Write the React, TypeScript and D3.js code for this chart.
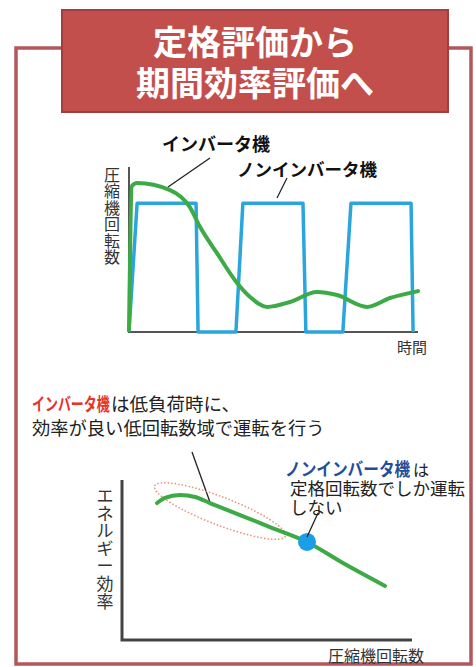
import React from "react";
import * as d3 from "d3";

// ---- Data ----
// Top chart: compressor speed over time
const inverterTime = [0, 1, 2.8, 14.2, 21, 24.6, 30.4, 37.4, 41.9, 47.8, 55.7, 65, 72, 82.4, 90.3, 100];
const inverterSpeed = [1, 88.5, 90.3, 86, 75.8, 63.6, 47.9, 29.7, 21.2, 15.2, 18.2, 24.2, 22.4, 15.2, 20.6, 24.8];
const nonInvTime = [0, 2.8, 23.2, 23.9, 37, 39.4, 60.2, 61.2, 74, 76.8, 97.6, 98.3];
const nonInvSpeed = [0, 78, 78, 0, 0, 78, 78, 0, 0, 78, 78, 0];

// Bottom chart: energy efficiency vs compressor speed
const effSpeed = [12.1, 14.8, 20, 25.2, 30.3, 40.7, 51, 63.8, 76.2, 90.7];
const effValue = [85.6, 88.8, 90.6, 89.4, 85.6, 78.1, 70.6, 61.3, 48.1, 33.8];
const ratedSpeed = [63.8];
const ratedEff = [61.3];

const titleLines = ["定格評価から", "期間効率評価へ"];
const topYLabel = "圧縮機回転数";
const bottomYLabel = "エネルギー効率";

const FONT = "'Noto Sans CJK JP', 'Noto Sans', sans-serif";

export default function App() {
  // top chart scales
  const tx = d3.scaleLinear().domain([0, 100]).range([129, 418]);
  const ty = d3.scaleLinear().domain([0, 100]).range([332, 167]);
  // bottom chart scales
  const bx = d3.scaleLinear().domain([0, 100]).range([122, 412]);
  const by = d3.scaleLinear().domain([0, 100]).range([640, 480]);

  const invPts: [number, number][] = inverterTime.map((t, i) => [tx(t), ty(inverterSpeed[i])]);
  const nonPts: [number, number][] = nonInvTime.map((t, i) => [tx(t), ty(nonInvSpeed[i])]);
  const effPts: [number, number][] = effSpeed.map((s, i) => [bx(s), by(effValue[i])]);

  const smooth = d3.line().curve(d3.curveMonotoneX);
  const straight = d3.line();

  const frame = "#b0585b";
  const vertical: React.CSSProperties = {
    writingMode: "vertical-rl",
    textOrientation: "upright",
    fontFeatureSettings: '"vert" 0',
  };

  return (
    <svg width={476} height={667} style={{ position: "absolute", left: 0, top: 0, background: "#fff" }} fontFamily={FONT}>
      {/* outer frame */}
      <rect x={16} y={48} width={455} height={616} fill="#fff" stroke={frame} strokeWidth={3.5} />
      {/* title box */}
      <rect x={62} y={10} width={386} height={102} fill="#c34f4c" stroke="#a03f3d" strokeWidth={2} />
      {titleLines.map((t, i) => (
        <text key={i} x={255} y={i === 0 ? 55 : 96} textAnchor="middle" fill="#fff" fontSize={34} fontWeight="bold">
          {t}
        </text>
      ))}

      {/* ---- top chart ---- */}
      <text x={112} y={167} fontSize={16} fill="#333" style={vertical} letterSpacing={0.4}>
        {topYLabel}
      </text>
      <path d={straight([[tx(0), ty(100)], [tx(0), ty(0)], [tx(100), ty(0)]]) || ""} fill="none" stroke="#555" strokeWidth={2} />
      <path d={straight(nonPts) || ""} fill="none" stroke="#2aa6dc" strokeWidth={3.5} strokeLinejoin="round" />
      <path d={smooth(invPts) || ""} fill="none" stroke="#3cab46" strokeWidth={4} strokeLinecap="round" />
      <text x={162} y={151} fontSize={18} fontWeight="bold" fill="#111">インバータ機</text>
      <text x={237} y={176} fontSize={17.5} fontWeight="bold" fill="#111">ノンインバータ機</text>
      <line x1={210} y1={158} x2={168} y2={187} stroke="#222" strokeWidth={1.3} />
      <line x1={287} y1={178} x2={277} y2={198} stroke="#222" strokeWidth={1.3} />
      <text x={397} y={353} fontSize={15} fill="#333">時間</text>

      {/* ---- middle annotations ---- */}
      <text transform="translate(32,411) scale(0.72,1)" fontSize={18} fontWeight="bold" fill="#e83128">インバータ機</text>
      <text x={111} y={411} fontSize={18.5} fill="#222">は低負荷時に、</text>
      <text x={32} y={435} fontSize={18.3} fill="#222">効率が良い低回転数域で運転を行う</text>
      <line x1={192} y1={452} x2={211} y2={505} stroke="#222" strokeWidth={1.3} />

      <text transform="translate(285,476) scale(0.87,1)" fontSize={18} fontWeight="bold" fill="#1f4f9c">ノンインバータ機</text>
      <text x={413} y={476} fontSize={16} fill="#222">は</text>
      <text x={290} y={495} fontSize={17.5} fill="#222">定格回転数でしか運転</text>
      <text x={290} y={514} fontSize={17.5} fill="#222">しない</text>

      {/* ---- bottom chart ---- */}
      <text x={105} y={487} fontSize={17} fill="#333" style={vertical} letterSpacing={0.6}>
        {bottomYLabel}
      </text>
      <path d={straight([[bx(0), by(100)], [bx(0), by(0)], [bx(100), by(0)]]) || ""} fill="none" stroke="#444" strokeWidth={3} />
      <ellipse
        cx={220}
        cy={511}
        rx={70}
        ry={14}
        transform="rotate(21 220 511)"
        fill="none"
        stroke="#e8907c"
        strokeWidth={1.5}
        strokeDasharray="1.5 2"
      />
      <path d={smooth(effPts) || ""} fill="none" stroke="#3cab46" strokeWidth={4} strokeLinecap="round" />
      {ratedSpeed.map((s, i) => (
        <circle key={i} cx={bx(s)} cy={by(ratedEff[i])} r={9} fill="#1a9fe6" />
      ))}
      <line x1={318} y1={513} x2={307} y2={537} stroke="#222" strokeWidth={1.3} />
      <text x={328} y={662} fontSize={16} fill="#333">圧縮機回転数</text>
    </svg>
  );
}
